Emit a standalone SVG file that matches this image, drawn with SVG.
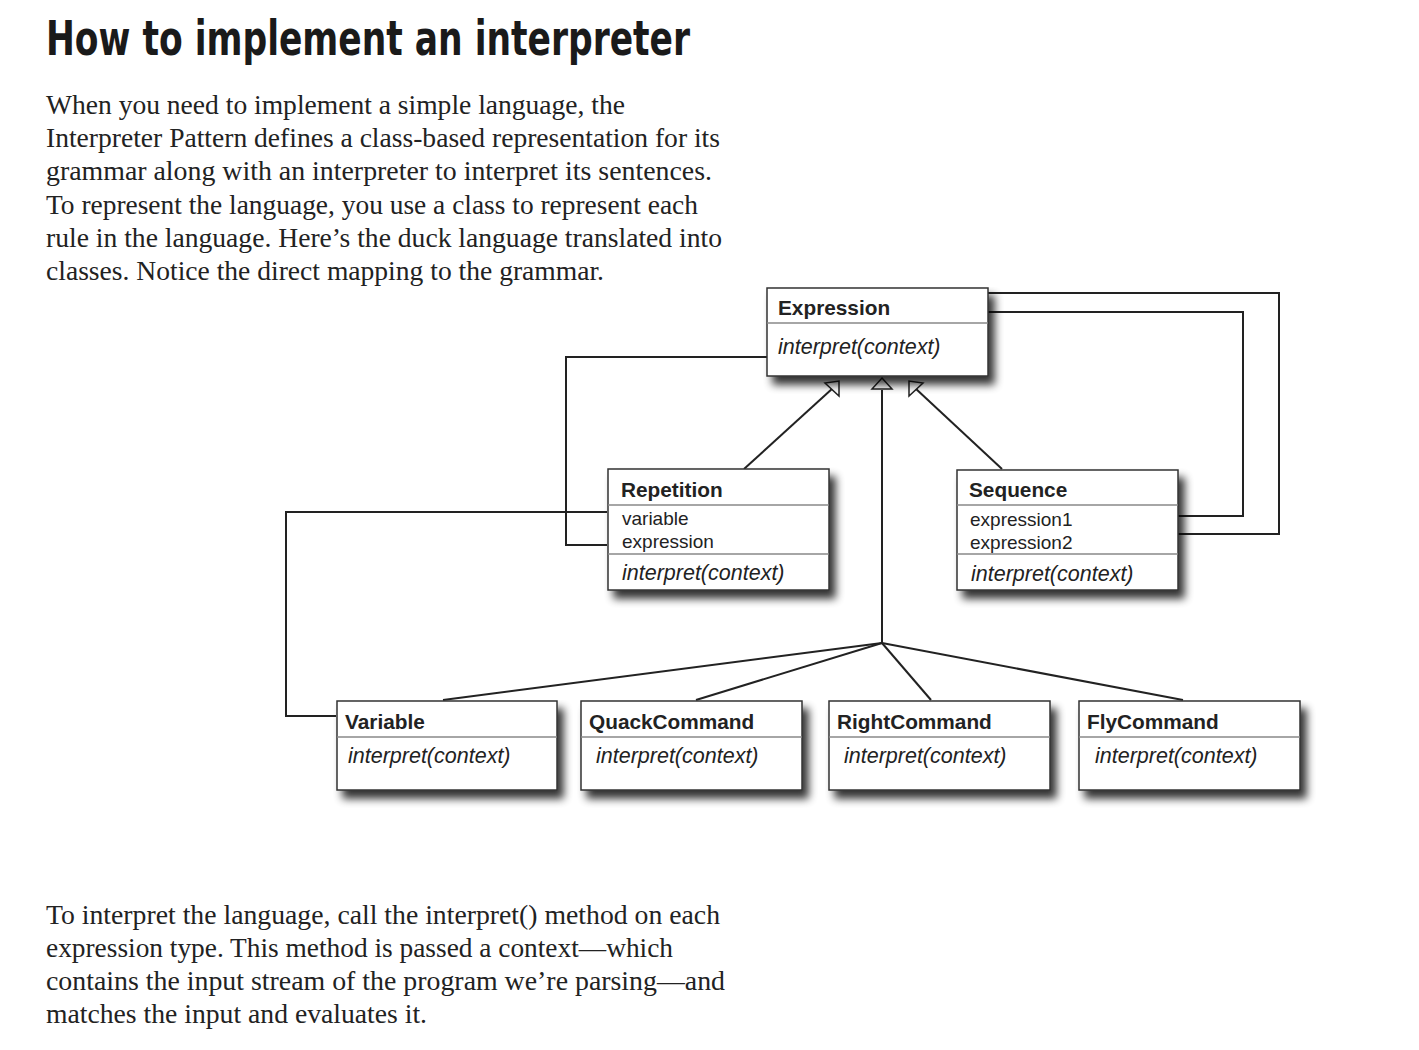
<svg xmlns="http://www.w3.org/2000/svg" width="1419" height="1050" viewBox="0 0 1419 1050">
<defs>
<filter id="sh" x="-10%" y="-10%" width="130%" height="150%">
<feGaussianBlur in="SourceAlpha" stdDeviation="4"/>
<feOffset dx="6" dy="8" result="b"/>
<feComponentTransfer><feFuncA type="linear" slope="0.8"/></feComponentTransfer>
<feMerge><feMergeNode/><feMergeNode in="SourceGraphic"/></feMerge>
</filter>
</defs>
<style>
.box{fill:#fff;stroke:#333;stroke-width:1.5}
.div{stroke:#888;stroke-width:1.5}
.t{font-family:"Liberation Sans",Arial,sans-serif;font-weight:bold;font-size:20.8px;fill:#222}
.a{font-family:"Liberation Sans",Arial,sans-serif;font-size:19px;fill:#222}
.m{font-family:"Liberation Sans",Arial,sans-serif;font-style:italic;font-size:21.5px;fill:#222}
.c{fill:none;stroke:#222;stroke-width:2}
.arr{fill:#fff;stroke:#222;stroke-width:1.5}
.body{font-family:"Liberation Serif","Times New Roman",serif;font-size:26.5px;fill:#222}
.title{font-family:"DejaVu Sans Condensed","DejaVu Sans",sans-serif;font-weight:bold;font-size:48px;fill:#1a1a1a}
</style>
<rect width="1419" height="1050" fill="#fff"/>
<text class="title" x="46" y="55" textLength="644" lengthAdjust="spacingAndGlyphs">How to implement an interpreter</text>
<g id="intro">
<text class="body" x="46" y="114" textLength="579" lengthAdjust="spacingAndGlyphs">When you need to implement a simple language, the</text>
<text class="body" x="46" y="147" textLength="674" lengthAdjust="spacingAndGlyphs">Interpreter Pattern defines a class-based representation for its</text>
<text class="body" x="46" y="180" textLength="666" lengthAdjust="spacingAndGlyphs">grammar along with an interpreter to interpret its sentences.</text>
<text class="body" x="46" y="214" textLength="652" lengthAdjust="spacingAndGlyphs">To represent the language, you use a class to represent each</text>
<text class="body" x="46" y="247" textLength="676" lengthAdjust="spacingAndGlyphs">rule in the language. Here’s the duck language translated into</text>
<text class="body" x="46" y="280" textLength="558" lengthAdjust="spacingAndGlyphs">classes. Notice the direct mapping to the grammar.</text>
</g>
<g id="outro">
<text class="body" x="46" y="924" textLength="674" lengthAdjust="spacingAndGlyphs">To interpret the language, call the interpret() method on each</text>
<text class="body" x="46" y="957" textLength="627" lengthAdjust="spacingAndGlyphs">expression type. This method is passed a context—which</text>
<text class="body" x="46" y="990" textLength="679" lengthAdjust="spacingAndGlyphs">contains the input stream of the program we’re parsing—and</text>
<text class="body" x="46" y="1023" textLength="381" lengthAdjust="spacingAndGlyphs">matches the input and evaluates it.</text>
</g>
<g id="connectors">
<polyline class="c" points="988,293 1279,293 1279,534 1178,534"/>
<polyline class="c" points="988,312 1243,312 1243,516 1178,516"/>
<polyline class="c" points="767,357 566,357 566,545 607,545"/>
<polyline class="c" points="336,716 286,716 286,512 607,512"/>
<line class="c" x1="744" y1="469" x2="833" y2="388"/>
<line class="c" x1="1002" y1="469" x2="915" y2="388"/>
<line class="c" x1="882" y1="390" x2="882" y2="643"/>
<line class="c" x1="882" y1="643" x2="443" y2="700"/>
<line class="c" x1="882" y1="643" x2="696" y2="700"/>
<line class="c" x1="882" y1="643" x2="931" y2="700"/>
<line class="c" x1="882" y1="643" x2="1183" y2="700"/>
<polygon class="arr" points="839,381 839,396 825,383"/>
<polygon class="arr" points="882,378 892,389 872,389"/>
<polygon class="arr" points="909,381 909,396 923,383"/>
</g>
<g id="expression">
<rect class="box" x="767" y="288" width="221" height="88" filter="url(#sh)"/>
<line class="div" x1="767" y1="323" x2="988" y2="323"/>
<text class="t" x="778" y="315">Expression</text>
<text class="m" x="778" y="354">interpret(context)</text>
</g>
<g id="repetition">
<rect class="box" x="608" y="469" width="221" height="121" filter="url(#sh)"/>
<line class="div" x1="608" y1="505" x2="829" y2="505"/>
<line class="div" x1="608" y1="554" x2="829" y2="554"/>
<text class="t" x="621" y="497">Repetition</text>
<text class="a" x="622" y="525">variable</text>
<text class="a" x="622" y="548">expression</text>
<text class="m" x="622" y="580">interpret(context)</text>
</g>
<g id="sequence">
<rect class="box" x="957" y="470" width="221" height="120" filter="url(#sh)"/>
<line class="div" x1="957" y1="505" x2="1178" y2="505"/>
<line class="div" x1="957" y1="554" x2="1178" y2="554"/>
<text class="t" x="969" y="497">Sequence</text>
<text class="a" x="970" y="526">expression1</text>
<text class="a" x="970" y="549">expression2</text>
<text class="m" x="971" y="581">interpret(context)</text>
</g>
<g id="variable">
<rect class="box" x="337" y="701" width="220" height="89" filter="url(#sh)"/>
<line class="div" x1="337" y1="737" x2="557" y2="737"/>
<text class="t" x="345" y="729">Variable</text>
<text class="m" x="348" y="763">interpret(context)</text>
</g>
<g id="quackcommand">
<rect class="box" x="581" y="701" width="221" height="89" filter="url(#sh)"/>
<line class="div" x1="581" y1="737" x2="802" y2="737"/>
<text class="t" x="589" y="729">QuackCommand</text>
<text class="m" x="596" y="763">interpret(context)</text>
</g>
<g id="rightcommand">
<rect class="box" x="829" y="701" width="221" height="89" filter="url(#sh)"/>
<line class="div" x1="829" y1="737" x2="1050" y2="737"/>
<text class="t" x="837" y="729">RightCommand</text>
<text class="m" x="844" y="763">interpret(context)</text>
</g>
<g id="flycommand">
<rect class="box" x="1079" y="701" width="221" height="89" filter="url(#sh)"/>
<line class="div" x1="1079" y1="737" x2="1300" y2="737"/>
<text class="t" x="1087" y="729">FlyCommand</text>
<text class="m" x="1095" y="763">interpret(context)</text>
</g>
</svg>
